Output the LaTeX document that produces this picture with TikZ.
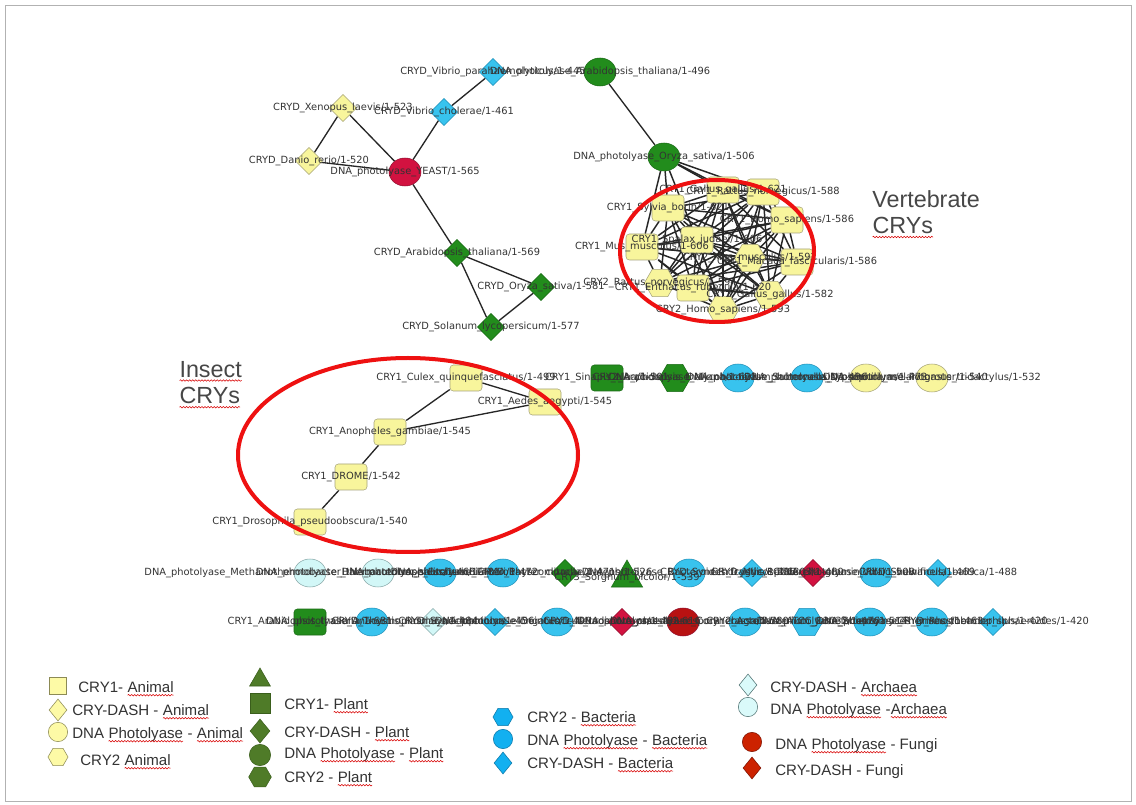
\documentclass[tikz,border=0pt]{standalone}
\usepackage{fontspec}
\setmainfont{Liberation Sans}
\newfontfamily\lblfont{DejaVu Sans}
\usetikzlibrary{shapes.geometric,decorations.pathmorphing}
\pgfdeclarelayer{paper}
\pgfdeclarelayer{edgelayer}
\pgfsetlayers{paper,edgelayer,main}

% network palette
\definecolor{nYel}{HTML}{F8F59C}
\definecolor{nYelD}{HTML}{A6A47A}
\definecolor{nBlu}{HTML}{38C3EE}
\definecolor{nBluD}{HTML}{2390B8}
\definecolor{nCya}{HTML}{D2F7F7}
\definecolor{nCyaD}{HTML}{88A8A8}
\definecolor{nGrn}{HTML}{228C1C}
\definecolor{nGrnD}{HTML}{1A6A16}
\definecolor{nCrm}{HTML}{D21240}
\definecolor{nCrmD}{HTML}{921030}
\definecolor{nRed}{HTML}{B81212}
\definecolor{ringRed}{HTML}{EE1111}
% key palette
\definecolor{kYel}{HTML}{FDFAA6}
\definecolor{kYelD}{HTML}{8C8A55}
\definecolor{kGrn}{HTML}{4F7B28}
\definecolor{kGrnD}{HTML}{3A5E1C}
\definecolor{kBlu}{HTML}{12B0F0}
\definecolor{kBluD}{HTML}{0C78A8}
\definecolor{kCya}{HTML}{DAFAFA}
\definecolor{kCyaD}{HTML}{4E7070}
\definecolor{kRed}{HTML}{CC2200}
\definecolor{kRedD}{HTML}{7E1200}
\definecolor{txt}{HTML}{333333}

% word with a red wavy underline
\newcommand\sq[1]{\tikz[baseline=(w.base)]{\node[inner sep=0pt,outer sep=0pt,anchor=base,draw=none,fill=none](w){#1};\draw[red!85!black,line width=0.4pt,decorate,decoration={snake,amplitude=0.55pt,segment length=2.3pt}]([yshift=-2.4pt]w.base west)--([yshift=-2.4pt]w.base east);}}
% label printed over a network node
\newcommand\lab[2]{\node[lbl] (#1-l) at (#1) {\detokenize{#2}};}

\tikzset{
  lbl/.style={font=\lblfont\fontsize{7.4}{8.5}\selectfont,text=txt,inner sep=0pt},
  sbox/.style={rectangle,rounded corners=2.5pt,minimum width=24pt,minimum height=19.5pt,inner sep=0pt,line width=0.4pt},
  sdia/.style={diamond,minimum width=20.5pt,minimum height=20.5pt,inner sep=0pt,line width=0.4pt},
  scirc/.style={ellipse,minimum width=24pt,minimum height=21pt,inner sep=0pt,line width=0.4pt},
  shex/.style={regular polygon,regular polygon sides=6,minimum size=23.5pt,inner sep=0pt,line width=0.4pt},
  stri/.style={regular polygon,regular polygon sides=3,minimum size=27pt,inner sep=0pt,line width=0.4pt},
  yel/.style={fill=nYel,draw=nYelD},
  blu/.style={fill=nBlu,draw=nBluD},
  cya/.style={fill=nCya,draw=nCyaD},
  grn/.style={fill=nGrn,draw=nGrnD},
  crm/.style={fill=nCrm,draw=nCrmD},
  dred/.style={fill=nRed,draw=nCrmD},
  edge/.style={line width=1pt,draw=black!85},
  ring/.style={draw=ringRed,line width=3pt},
  ttl/.style={font=\fontsize{17.5}{20}\selectfont,text=black!72,align=left,inner sep=0pt},
  ktxt/.style={font=\fontsize{11.3}{13}\selectfont,text=txt,inner sep=0pt,anchor=base west},
  kbox/.style={rectangle,minimum size=13pt,inner sep=0pt,line width=0.4pt},
  kdia/.style={diamond,minimum width=13.5pt,minimum height=16.5pt,inner sep=0pt,line width=0.4pt},
  kcirc/.style={circle,minimum size=14.5pt,inner sep=0pt,line width=0.4pt},
  khex/.style={regular polygon,regular polygon sides=6,minimum size=15pt,inner sep=0pt,line width=0.4pt},
  ktri/.style={regular polygon,regular polygon sides=3,minimum size=18pt,inner sep=0pt,line width=0.4pt},
  kyel/.style={fill=kYel,draw=kYelD},
  kgrn/.style={fill=kGrn,draw=kGrnD},
  kblu/.style={fill=kBlu,draw=kBluD},
  kcya/.style={fill=kCya,draw=kCyaD},
  kred/.style={fill=kRed,draw=kRedD},
}

\begin{document}
\begin{tikzpicture}[x=0.75pt,y=-0.75pt]
\useasboundingbox (0,0) rectangle (1136,805);
\begin{pgfonlayer}{paper}
  \fill[white] (0,0) rectangle (1136,805);
  \draw[gray!60,line width=0.6pt] (5,5) rectangle (1131,801);
\end{pgfonlayer}

% ---------- upper left component ----------
\node[sdia,yel] (xen) at (343,108) {};
\node[sdia,yel] (dan) at (309,161) {};
\node[scirc,crm] (yst) at (405,172) {};
\node[sdia,blu] (vch) at (444,112) {};
\node[sdia,blu] (vpa) at (493,72) {};
\node[sdia,grn] (dat) at (457,253) {};
\node[sdia,grn] (dos) at (541,287) {};
\node[sdia,grn] (dsl) at (491,327) {};

% ---------- plant photolyases and vertebrate clique ----------
\node[scirc,grn] (pat) at (600,72) {};
\node[scirc,grn] (pos) at (664,157) {};
\node[sbox,yel] (v1) at (723,190) {};
\node[sbox,yel] (v2) at (763,192) {};
\node[sbox,yel] (v3) at (668,208) {};
\node[sbox,yel] (v4) at (787,220) {};
\node[sbox,yel] (v5) at (642,247) {};
\node[sbox,yel] (v6) at (697,240) {};
\node[shex,yel] (v7) at (750,258) {};
\node[sbox,yel] (v8) at (797,262) {};
\node[shex,yel] (v9) at (660,283) {};
\node[sbox,yel] (v10) at (693,288) {};
\node[shex,yel] (v11) at (723,310) {};
\node[shex,yel] (v12) at (770,295) {};

% ---------- insect chain ----------
\node[sbox,yel] (cul) at (466,378) {};
\node[sbox,yel] (aed) at (545,402) {};
\node[sbox,yel] (ano) at (390,432) {};
\node[sbox,yel] (dro) at (351,477) {};
\node[sbox,yel] (dps) at (310,522) {};

% ---------- unconnected nodes, row 1 ----------
\node[sbox,grn] (a1) at (607,378) {};
\node[shex,grn] (a2) at (675,378) {};
\node[scirc,blu] (a3) at (738,378) {};
\node[scirc,blu] (a4) at (807,378) {};
\node[scirc,yel] (a5) at (866,378) {};
\node[scirc,yel] (a6) at (932,378) {};

% ---------- row 2 ----------
\node[scirc,cya] (b1) at (310,573) {};
\node[scirc,cya] (b2) at (378,573) {};
\node[scirc,blu] (b3) at (440,573) {};
\node[scirc,blu] (b4) at (503,573) {};
\node[sdia,grn] (b5) at (565,573) {};
\node[stri,grn] (b6) at (627,578) {};
\node[scirc,blu] (b7) at (689,573) {};
\node[sdia,blu] (b8) at (752,573) {};
\node[sdia,crm] (b9) at (813,573) {};
\node[scirc,blu] (b10) at (876,573) {};
\node[sdia,blu] (b11) at (938,573) {};

% ---------- row 3 ----------
\node[sbox,grn] (c1) at (310,622) {};
\node[scirc,blu] (c2) at (372,622) {};
\node[sdia,cya] (c3) at (433,622) {};
\node[sdia,blu] (c4) at (495,622) {};
\node[scirc,blu] (c5) at (557,622) {};
\node[sdia,crm] (c6) at (622,622) {};
\node[scirc,dred] (c7) at (683,622) {};
\node[scirc,blu] (c8) at (745,622) {};
\node[shex,blu] (c9) at (807,622) {};
\node[scirc,blu] (c10) at (870,622) {};
\node[scirc,blu] (c11) at (932,622) {};
\node[sdia,blu] (c12) at (993,622) {};

% ---------- edges ----------
\begin{pgfonlayer}{edgelayer}
  \draw[edge] (xen) -- (dan);
  \draw[edge] (xen) -- (yst);
  \draw[edge] (dan) -- (yst);
  \draw[edge] (yst) -- (vch);
  \draw[edge] (vch) -- (vpa);
  \draw[edge] (yst) -- (dat);
  \draw[edge] (dat) -- (dos);
  \draw[edge] (dat) -- (dsl);
  \draw[edge] (dos) -- (dsl);
  \draw[edge] (pat) -- (pos);
  \foreach \t in {v1,v2,v3,v5,v6,v4}
    \draw[edge,line width=1.1pt] (pos) -- (\t);
  \foreach \a [count=\i] in {v1,v2,v3,v4,v5,v6,v7,v8,v9,v10,v11,v12}
    \foreach \b [count=\j] in {v1,v2,v3,v4,v5,v6,v7,v8,v9,v10,v11,v12}
      {\ifnum\j>\i \draw[edge,line width=1.1pt] (\a) -- (\b);\fi}
  \draw[edge] (cul) -- (aed);
  \draw[edge] (cul) -- (ano);
  \draw[edge] (ano) -- (aed);
  \draw[edge] (ano) -- (dro);
  \draw[edge] (dro) -- (dps);
\end{pgfonlayer}

% ---------- labels ----------
\lab{xen}{CRYD_Xenopus_laevis/1-523}
\lab{dan}{CRYD_Danio_rerio/1-520}
\lab{yst}{DNA_photolyase_YEAST/1-565}
\lab{vch}{CRYD_Vibrio_cholerae/1-461}
\lab{vpa}{CRYD_Vibrio_parahaemolyticus/1-445}
\lab{pat}{DNA_photolyase_Arabidopsis_thaliana/1-496}
\lab{pos}{DNA_photolyase_Oryza_sativa/1-506}
\lab{dat}{CRYD_Arabidopsis_thaliana/1-569}
\lab{dos}{CRYD_Oryza_sativa/1-581}
\lab{dsl}{CRYD_Solanum_lycopersicum/1-577}
\lab{v1}{CRY1_Gallus_gallus/1-621}
\lab{v2}{CRY1_Rattus_norvegicus/1-588}
\lab{v3}{CRY1_Sylvia_borin/1-621}
\lab{v4}{CRY1_Homo_sapiens/1-586}
\lab{v5}{CRY1_Mus_musculus/1-606}
\lab{v6}{CRY1_Spalax_judaei/1-606}
\lab{v7}{CRY2_Mus_musculus/1-592}
\lab{v8}{CRY1_Macaca_fascicularis/1-586}
\lab{v9}{CRY2_Rattus_norvegicus/1-594}
\lab{v10}{CRY1_Erithacus_rubecula/1-620}
\lab{v11}{CRY2_Homo_sapiens/1-593}
\lab{v12}{CRY2_Gallus_gallus/1-582}
\lab{cul}{CRY1_Culex_quinquefasciatus/1-499}
\lab{aed}{CRY1_Aedes_aegypti/1-545}
\lab{ano}{CRY1_Anopheles_gambiae/1-545}
\lab{dro}{CRY1_DROME/1-542}
\lab{dps}{CRY1_Drosophila_pseudoobscura/1-540}
\lab{a1}{CRY1_Sinapis_alba/1-501}
\lab{a2}{CRY2_Arabidopsis_thaliana/1-612}
\lab{a3}{DNA_photolyase_Mycobacterium_tuberculosis/1-496}
\lab{a4}{DNA_photolyase_Salmonella_typhimurium/1-473}
\lab{a5}{DNA_photolyase_Drosophila_melanogaster/1-540}
\lab{a6}{DNA_photolyase_Potorous_tridactylus/1-532}
\lab{b1}{DNA_photolyase_Methanothermobacter_thermautotrophicus/1-468}
\lab{b2}{DNA_photolyase_Halobacterium_salinarum/1-481}
\lab{b3}{DNA_photolyase_Escherichia_coli/1-472}
\lab{b4}{DNA_photolyase_Enterobacter_cloacae/1-471}
\lab{b5}{CRYD_Physcomitrella_patens/1-526}
\lab{b6}{CRY3_Sorghum_bicolor/1-539}
\lab{b7}{DNA_photolyase_Bacteroides_fragilis/1-485}
\lab{b8}{CRYD_Synechocystis_PCC6803/1-489}
\lab{b9}{CRYD_Mycosphaerella_graminicola/1-508}
\lab{b10}{DNA_photolyase_Vibrio_vulnificus/1-469}
\lab{b11}{CRYD_Shewanella_baltica/1-488}
\lab{c1}{CRY1_Arabidopsis_thaliana/1-681}
\lab{c2}{DNA_photolyase_Anacystis_nidulans/1-484}
\lab{c3}{CRYD_Thermoplasma_acidophilum/1-456}
\lab{c4}{CRYD_Synechococcus_elongatus/1-490}
\lab{c5}{DNA_photolyase_Deinococcus_radiodurans/1-482}
\lab{c6}{CRYD_Neurospora_crassa/1-616}
\lab{c7}{DNA_photolyase_Neurospora_crassa/1-580}
\lab{c8}{DNA_photolyase_Corynebacterium_ATCC_13032/1-476}
\lab{c9}{CRY2_Agrobacterium_tumefaciens/1-514}
\lab{c10}{DNA_photolyase_Streptomyces_griseus/1-463}
\lab{c11}{DNA_photolyase_Thermus_thermophilus/1-420}
\lab{c12}{CRYD_Rhodobacter_sphaeroides/1-420}

% ---------- highlighted groups ----------
\draw[ring] (717,251) ellipse [x radius=97, y radius=71];
\draw[ring] (408,455) ellipse [x radius=170, y radius=97];
\node[ttl,anchor=north west] (vtitle) at (872,190) {Vertebrate\\\sq{CRYs}};
\node[ttl,anchor=north west] (ititle) at (179,361) {\sq{Insect}\\\sq{CRYs}};

% ---------- key ----------
\node[kbox,kyel] (k1) at (58,686) {};
\node[kdia,kyel] (k2) at (58,710) {};
\node[kcirc,kyel] (k3) at (58,732) {};
\node[khex,kyel] (k4) at (58,757) {};
\node[ktxt] (k1t) at (78,692) {CRY1- \sq{Animal}};
\node[ktxt] (k2t) at (72,715) {CRY-DASH - \sq{Animal}};
\node[ktxt] (k3t) at (72,738) {DNA \sq{Photolyase} - \sq{Animal}};
\node[ktxt] (k4t) at (80,765) {CRY2 \sq{Animal}};

\node[ktri,kgrn] (k5) at (260,680) {};
\node[kbox,kgrn,minimum size=15pt] (k6) at (260,703) {};
\node[kdia,kgrn,minimum width=15pt,minimum height=18pt] (k7) at (260,731) {};
\node[kcirc,kgrn,minimum size=16pt] (k8) at (260,755) {};
\node[khex,kgrn,minimum size=17pt] (k9) at (260,777) {};
\node[ktxt] (k6t) at (284,709) {CRY1- \sq{Plant}};
\node[ktxt] (k7t) at (284,737) {CRY-DASH - \sq{Plant}};
\node[ktxt] (k8t) at (284,758) {DNA \sq{Photolyase} - \sq{Plant}};
\node[ktxt] (k9t) at (284,782) {CRY2 - \sq{Plant}};

\node[khex,kblu] (k10) at (503,717) {};
\node[kcirc,kblu] (k11) at (503,739) {};
\node[kdia,kblu] (k12) at (503,763) {};
\node[ktxt] (k10t) at (527,722) {CRY2 - \sq{Bacteria}};
\node[ktxt] (k11t) at (527,745) {DNA \sq{Photolyase} - \sq{Bacteria}};
\node[ktxt] (k12t) at (527,768) {CRY-DASH - \sq{Bacteria}};

\node[kdia,kcya] (k13) at (748,685) {};
\node[kcirc,kcya] (k14) at (748,707) {};
\node[kcirc,kred] (k15) at (752,742) {};
\node[kdia,kred] (k16) at (752,768) {};
\node[ktxt] (k13t) at (770,692) {CRY-DASH - \sq{Archaea}};
\node[ktxt] (k14t) at (770,714) {DNA \sq{Photolyase} -\sq{Archaea}};
\node[ktxt] (k15t) at (775,749) {DNA \sq{Photolyase} - Fungi};
\node[ktxt] (k16t) at (775,775) {CRY-DASH - Fungi};
\end{tikzpicture}
\end{document}
